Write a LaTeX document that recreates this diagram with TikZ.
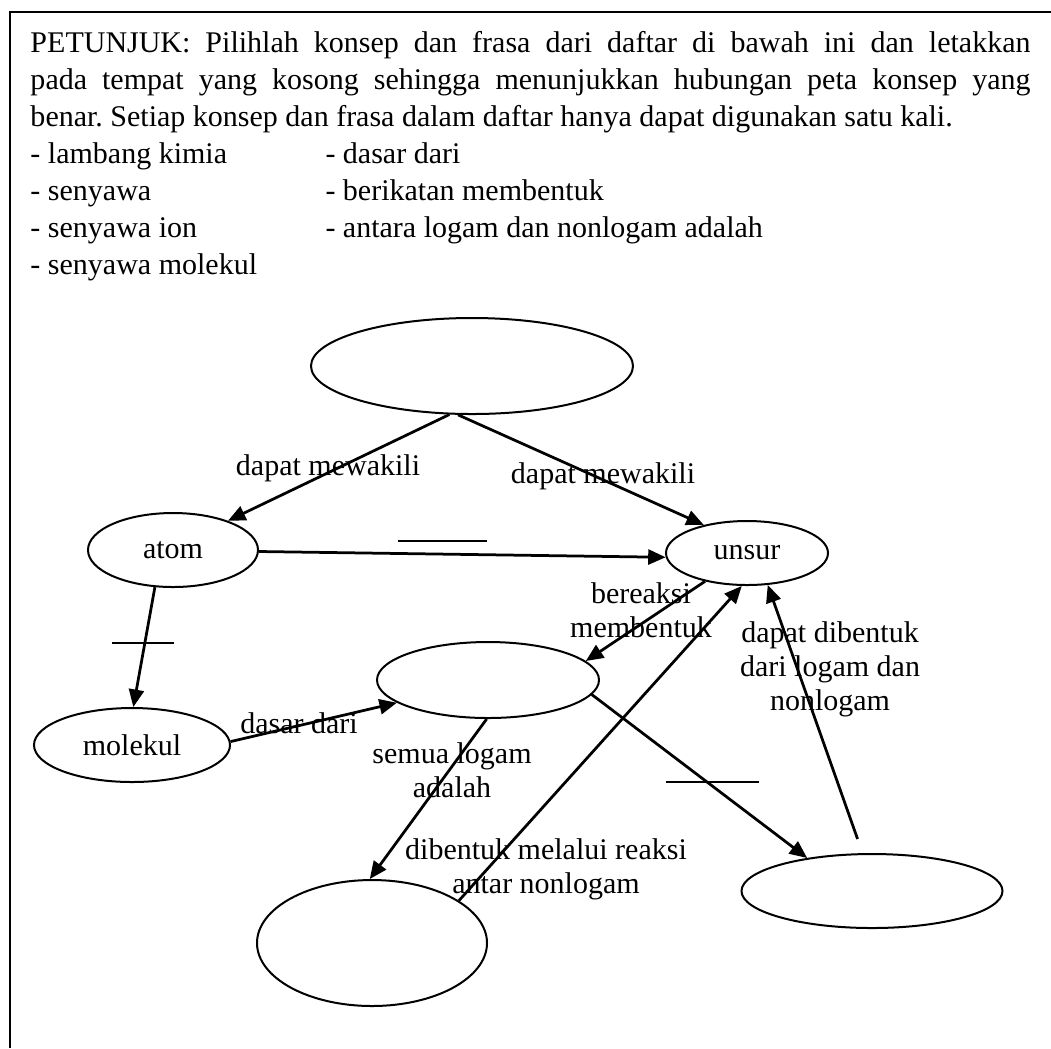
\documentclass[tikz,border=0pt]{standalone}
\usepackage{fontspec}
\setmainfont{Liberation Serif}
\usepackage{tikz}
\usetikzlibrary{shapes.geometric}
\usetikzlibrary{arrows.meta}

\begin{document}
\begin{tikzpicture}[x=0.4pt, y=-0.4pt, font=\fontsize{12}{14.8}\selectfont,
		konsep/.style={draw, black, ellipse, line width=0.8pt, inner sep=0pt},
		hubung/.style={black, line width=1.1pt, -{Triangle[length=7pt,width=6pt]}},
		kata/.style={align=center, inner sep=0pt, anchor=base, font=\fontsize{12}{13.5}\selectfont},
		baris/.style={anchor=base west, inner sep=0pt},
		isian/.style={black, line width=0.6pt}]
			\useasboundingbox (0,0) rectangle (1051,1048);
			\draw[black, line width=0.8pt] (9.5,1048)--(9.5,12)--(1051,12);

			\node[baris] (petunjuk1) at (30,52) {\makebox[400pt][s]{PETUNJUK: Pilihlah konsep dan frasa dari daftar di bawah ini dan letakkan}};
			\node[baris] (petunjuk2) at (30,89) {\makebox[400pt][s]{pada tempat yang kosong sehingga menunjukkan hubungan peta konsep yang}};
			\node[baris] (petunjuk3) at (30,126) {\frenchspacing benar. Setiap konsep dan frasa dalam daftar hanya dapat digunakan satu kali.};
			\foreach \teks [count=\i] in {lambang kimia, senyawa, senyawa ion, senyawa molekul}
				\node[baris] (pilihan\i) at (30,126+37*\i) {- \teks};
			\foreach \teks [count=\i] in {dasar dari, berikatan membentuk, antara logam dan nonlogam adalah}
				\node[baris] (frasa\i) at (325,126+37*\i) {- \teks};

			\node[konsep, minimum width=128.8pt, minimum height=38.4pt] (atas) at (472,366) {};
			\node[konsep, minimum width=68pt, minimum height=29.6pt] (atom) at (173,550) {atom};
			\node[konsep, minimum width=64.8pt, minimum height=25.6pt] (unsur) at (747,553) {unsur};
			\node[konsep, minimum width=88.8pt, minimum height=30.4pt] (tengah) at (488,680) {};
			\node[konsep, minimum width=78.4pt, minimum height=29.6pt] (molekul) at (132,745) {molekul};
			\node[konsep, minimum width=92pt, minimum height=50.4pt] (kiriBawah) at (372,943) {};
			\node[konsep, minimum width=104.4pt, minimum height=29.6pt] (kananBawah) at (872,891) {};

			\draw[hubung] (atas.245) -- (atom.28);
			\draw[hubung] (atas.254) -- (unsur.147);
			\draw[hubung] (atom.-1) -- (unsur.183);
			\draw[hubung] (atom.244) -- (molekul.88);
			\draw[hubung] (molekul.2) -- (tengah.194);
			\draw[hubung] (unsur.214) -- (tengah.11);
			\draw[hubung] (tengah.268) -- (kiriBawah.92);
			\draw[hubung] (kiriBawah.26) -- (unsur.261);
			\draw[hubung] (tengah.-8) -- (kananBawah.153);
			\draw[hubung, shorten <=6pt] (kananBawah.104) -- (unsur.303);

			\draw[isian] (398,541)--(487,541);
			\draw[isian] (112,643)--(174,643);
			\draw[isian] (666,782)--(759,782);

			\node[kata] (mewakiliKiri) at (328,475) {dapat mewakili};
			\node[kata] (mewakiliKanan) at (603,483) {dapat mewakili};
			\node[kata] (bereaksi) at (641,637) {bereaksi\\membentuk};
			\node[kata] (dasarDari) at (299,733) {dasar dari};
			\node[kata] (semuaLogam) at (452,797) {semua logam\\adalah};
			\node[kata] (melaluiReaksi) at (546,893) {dibentuk melalui reaksi\\antar nonlogam};
			\node[kata] (dapatDibentuk) at (830,710) {dapat dibentuk\\dari logam dan\\nonlogam};
		\end{tikzpicture}
\end{document}
